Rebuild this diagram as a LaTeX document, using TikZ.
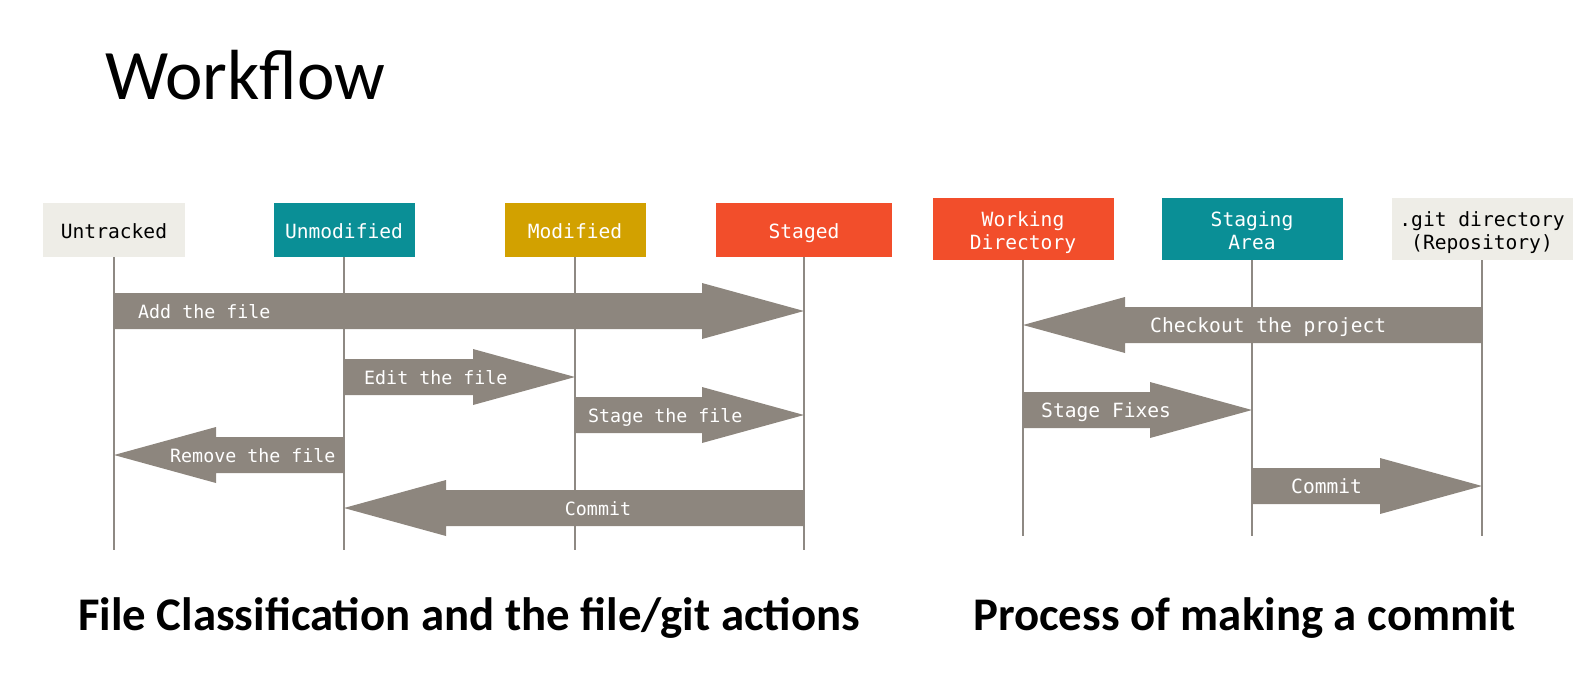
\documentclass[tikz,border=0pt]{standalone}
\usepackage{fontspec}
\setmainfont{Carlito}
\newfontfamily\gitmono{DejaVu Sans Mono}
\usetikzlibrary{calc}
\definecolor{gitpaper}{HTML}{EEEDE7}
\definecolor{gitteal}{HTML}{0A8F96}
\definecolor{gitgold}{HTML}{D2A100}
\definecolor{gitred}{HTML}{F24E2B}
\definecolor{gitgray}{HTML}{8D867E}
\definecolor{gitline}{HTML}{8E8983}
\tikzset{
  state/.style={minimum height=54pt, inner sep=0pt, align=center,
    font=\gitmono\fontsize{19.6}{23}\selectfont, text height=17pt, text depth=0pt},
  area/.style={state, minimum width=181pt, minimum height=62pt, text height=40pt},
  lifeline/.style={draw=gitline, line width=1.5pt},
  fat/.style={fill=gitgray},
  act/.style={font=\gitmono\fontsize{19.6}{23}\selectfont, text=white, inner sep=0pt, anchor=base west},
  smallact/.style={act, font=\gitmono\fontsize{18.3}{22}\selectfont},
  heading/.style={font=\bfseries\fontsize{46.8}{52}\selectfont, inner sep=0pt, anchor=base west}
}
% block arrow: tail, tip, direction (1 right, -1 left)
\newcommand\fatarrow[3]{%
  \fill[fat] ($(#1)+(0,-18)$) -- ($(#2)+({-102*#3},-18)$) -- ++(0,-10) -- (#2)
    -- ($(#2)+({-102*#3},28)$) -- ++(0,-10) -- ($(#1)+(0,18)$) -- cycle;}
\begin{document}
\begin{tikzpicture}[x=1pt,y=-1pt]
\useasboundingbox (0,0) rectangle (1576,681);
\node[anchor=base west, inner sep=0pt, font=\fontsize{71}{80}\selectfont] (title) at (105,99) {Workflow};
% file classification
\node[state, fill=gitpaper, minimum width=142pt] (untracked) at (114,230) {Untracked};
\node[state, fill=gitteal, text=white, minimum width=141pt] (unmodified) at (344,230) {Unmodified};
\node[state, fill=gitgold, text=white, minimum width=141pt] (modified) at (575,230) {Modified};
\node[state, fill=gitred, text=white, minimum width=176pt] (staged) at (804,230) {Staged};
\foreach \s in {untracked,unmodified,modified,staged}
  \draw[lifeline] (\s.south) -- ++(0,293);
\coordinate (addrow) at (0,311);
\coordinate (editrow) at (0,377);
\coordinate (stagerow) at (0,415);
\coordinate (removerow) at (0,455);
\coordinate (commitrow) at (0,508);
\fatarrow{untracked |- addrow}{staged |- addrow}{1}
\fatarrow{unmodified |- editrow}{modified |- editrow}{1}
\fatarrow{modified |- stagerow}{staged |- stagerow}{1}
\fatarrow{unmodified |- removerow}{untracked |- removerow}{-1}
\fatarrow{staged |- commitrow}{unmodified |- commitrow}{-1}
\node[smallact] (addlbl) at (138,318) {Add the file};
\node[smallact] (editlbl) at (364,384) {Edit the file};
\node[smallact] (stagelbl) at (588,422) {Stage the file};
\node[smallact] (removelbl) at (170,462) {Remove the file};
\node[smallact, anchor=base] (commitlbl) at (598,515) {Commit};
% making a commit
\node[area, fill=gitred, text=white] (workdir) at (1023,229) {Working\\Directory};
\node[area, fill=gitteal, text=white] (staging) at (1252,229) {Staging\\Area};
\node[area, fill=gitpaper] (repo) at (1482,229) {.git directory\\(Repository)};
\foreach \s in {workdir,staging,repo}
  \draw[lifeline] (\s.south) -- ++(0,276);
\coordinate (checkoutrow) at (0,325);
\coordinate (fixesrow) at (0,410);
\coordinate (commitrowb) at (0,486);
\fatarrow{repo |- checkoutrow}{workdir |- checkoutrow}{-1}
\fatarrow{workdir |- fixesrow}{staging |- fixesrow}{1}
\fatarrow{staging |- commitrowb}{repo |- commitrowb}{1}
\node[act] (checkoutlbl) at (1150,332) {Checkout the project};
\node[act] (fixeslbl) at (1041,417) {Stage Fixes};
\node[act] (commitlblb) at (1291,493) {Commit};
\node[heading] (lefthead) at (78,630) {File Classification and the file/git actions};
\node[heading] (righthead) at (973,630) {Process of making a commit};
\end{tikzpicture}
\end{document}
